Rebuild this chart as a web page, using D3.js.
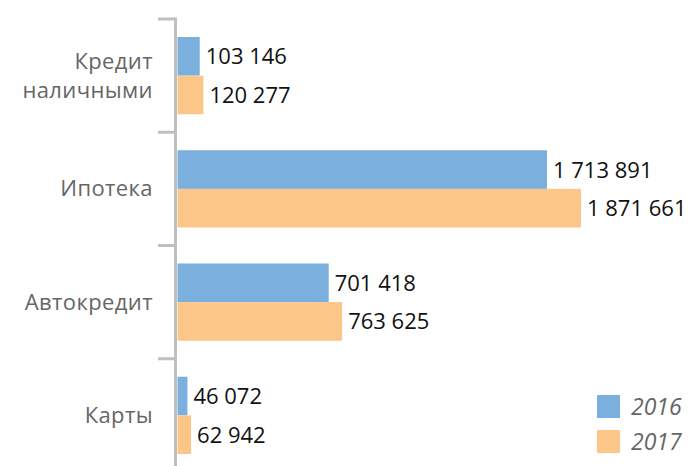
<!DOCTYPE html>
<html><head><meta charset="utf-8">
<script src="https://cdn.jsdelivr.net/npm/d3@7"></script>
<style>body{margin:0;background:#fff}svg{display:block}</style>
</head><body>
<svg id="c" width="700" height="466"></svg>
<script>
const categories = [["Кредит","наличными"],["Ипотека"],["Автокредит"],["Карты"]];
const seriesNames = ["2016","2017"];
const values2016 = [103146, 1713891, 701418, 46072];
const values2017 = [120277, 1871661, 763625, 62942];
const colors = ["#7BAFDE","#FDC689"];

const svg = d3.select("#c");
const x0 = 177.5;
const x = d3.scaleLinear().domain([0, 1871661]).range([x0, 581]);
const y = d3.scaleBand().domain(d3.range(categories.length)).range([19, 472]).paddingInner(0).paddingOuter(0);
const bandPad = 18;
const fmt = v => d3.format(",")(v).replace(/,/g, " ");
const series = [values2016, values2017];

// axis
const axisG = svg.append("g");
axisG.append("line").attr("x1",175.5).attr("x2",175.5).attr("y1",17.5).attr("y2",466)
  .attr("stroke","#bfbfbf").attr("stroke-width",3);
categories.forEach((c,i)=>{
  axisG.append("line").attr("x1",158).attr("x2",175.5).attr("y1",y(i)).attr("y2",y(i))
    .attr("stroke","#bfbfbf").attr("stroke-width",3);
});

const bh = (y.bandwidth() - 2*bandPad)/2;
categories.forEach((c,i)=>{
  series.forEach((s,j)=>{
    const top = y(i) + bandPad + j*bh;
    svg.append("rect").attr("x",x0).attr("y",top).attr("width",x(s[i])-x0).attr("height",bh)
      .attr("fill",colors[j]);
    svg.append("text").attr("x",x(s[i])+6).attr("y",top+bh/2+8)
      .attr("font-family","Open Sans").attr("font-size",22).attr("fill","#111")
      .text(fmt(s[i]));
  });
  const cy = y(i) + y.bandwidth()/2;
  const n = c.length;
  c.forEach((line,k)=>{
    svg.append("text").attr("x",153).attr("y",cy + 7.5 + (k-(n-1)/2)*29)
      .attr("text-anchor","end").attr("font-family","Open Sans").attr("font-size",22)
      .attr("fill","#666").attr("letter-spacing",0.4).text(line);
  });
});

// legend
seriesNames.forEach((nm,j)=>{
  const ly = 395 + j*35;
  svg.append("rect").attr("x",597).attr("y",ly).attr("width",23).attr("height",23).attr("fill",colors[j]);
  svg.append("text").attr("x",631).attr("y",ly+20).attr("font-family","Open Sans")
    .attr("font-style","italic").attr("font-size",23).attr("fill","#666").text(nm);
});
</script>
</body></html>
